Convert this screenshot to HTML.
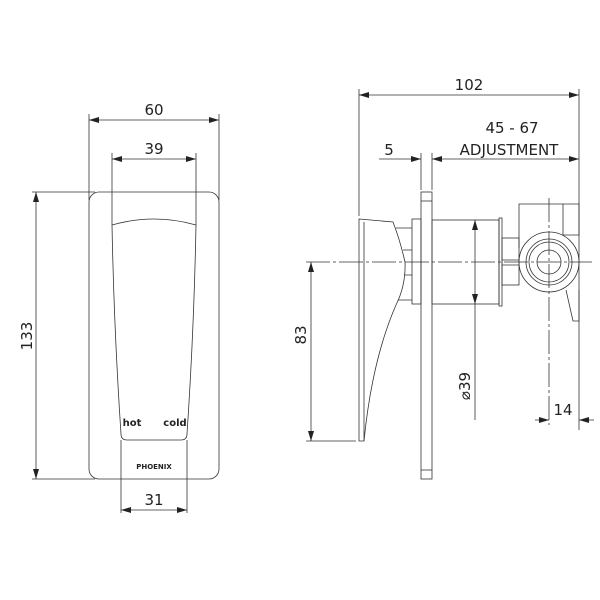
<!DOCTYPE html>
<html><head><style>body{margin:0;background:#fff}svg{display:block}text{font-family:"DejaVu Sans","Liberation Sans",sans-serif;fill:#222}</style></head>
<body>
<svg width="600" height="600" viewBox="0 0 600 600" xmlns="http://www.w3.org/2000/svg">
<defs>
<marker id="a" viewBox="0 0 10 6" refX="10" refY="3" markerWidth="10" markerHeight="6" orient="auto-start-reverse" markerUnits="userSpaceOnUse"><path d="M0,0 L10,3 L0,6 z" fill="#222"/></marker>
</defs>
<g stroke="#333" stroke-width="0.8" fill="none">
<rect x="89" y="192" width="130" height="287" rx="10"/>
<path d="M112,225 Q154,213 196,225 Q194,330 187,434 Q187,440 181,440 L127,440 Q121,440 121,434 Q114,330 112,225 Z"/>
<line x1="89" y1="114" x2="89" y2="200"/>
<line x1="219" y1="114" x2="219" y2="200"/>
<line x1="112" y1="153" x2="112" y2="225"/>
<line x1="196" y1="153" x2="196" y2="225"/>
<line x1="121" y1="440" x2="121" y2="513"/>
<line x1="187" y1="440" x2="187" y2="513"/>
<line x1="32" y1="192" x2="95" y2="192"/>
<line x1="32" y1="479" x2="95" y2="479"/>
<line x1="89" y1="120" x2="219" y2="120" marker-start="url(#a)" marker-end="url(#a)"/>
<line x1="112" y1="159" x2="196" y2="159" marker-start="url(#a)" marker-end="url(#a)"/>
<line x1="121" y1="510" x2="187" y2="510" marker-start="url(#a)" marker-end="url(#a)"/>
<line x1="36" y1="192" x2="36" y2="479" marker-start="url(#a)" marker-end="url(#a)"/>

<rect x="421" y="192" width="11" height="287"/>
<line x1="421" y1="201" x2="432" y2="201"/>
<line x1="421" y1="470" x2="432" y2="470"/>
<path d="M359,219 L393,222 Q400,240 405,262 Q406,285 396,305 Q372,360 364,441 L359,441 Z"/>
<line x1="364" y1="222" x2="364" y2="441"/>
<path d="M396,228 L412,228 M403,250 L412,250 M404,275 L412,275 M398,300 L412,300"/>
<rect x="412" y="219" width="9" height="85"/>
<rect x="432" y="220" width="67" height="84"/>
<rect x="499" y="218" width="3" height="88"/>
<rect x="502" y="238" width="17" height="47"/>
<line x1="502" y1="260" x2="519" y2="260"/>
<line x1="502" y1="265" x2="519" y2="265"/>
<path d="M519,248 L519,204 L563,204 L563,235 M563,204 L579,204 L579,235 L563,235"/>
<circle cx="549" cy="262" r="30"/>
<circle cx="549" cy="262" r="23"/>
<circle cx="549" cy="262" r="20"/>
<circle cx="549" cy="262" r="12"/>
<path d="M566,290 L573,321 L579,321 L579,290"/>
<line x1="306" y1="262" x2="592" y2="262" stroke-dasharray="24,3,3,3"/>
<line x1="549" y1="198" x2="549" y2="425" stroke-dasharray="24,3,3,3"/>
<line x1="359" y1="89" x2="359" y2="216"/>
<line x1="579" y1="89" x2="579" y2="430"/>
<line x1="421" y1="153" x2="421" y2="190"/>
<line x1="432" y1="153" x2="432" y2="190"/>
<line x1="306" y1="441" x2="356" y2="441"/>
<line x1="475" y1="304" x2="475" y2="420"/>
<line x1="359" y1="95" x2="579" y2="95" marker-start="url(#a)" marker-end="url(#a)"/>
<line x1="379" y1="159" x2="421" y2="159" marker-end="url(#a)"/>
<line x1="432" y1="159" x2="579" y2="159" marker-start="url(#a)" marker-end="url(#a)"/>
<line x1="475" y1="220" x2="475" y2="304" marker-start="url(#a)" marker-end="url(#a)"/>
<line x1="311" y1="262" x2="311" y2="441" marker-start="url(#a)" marker-end="url(#a)"/>
<line x1="535" y1="420" x2="549" y2="420" marker-end="url(#a)"/>
<line x1="594" y1="420" x2="579" y2="420" marker-end="url(#a)"/>
</g>
<g font-size="15">
<text x="154" y="115" text-anchor="middle">60</text>
<text x="154" y="154" text-anchor="middle">39</text>
<text x="154" y="505" text-anchor="middle">31</text>
<text transform="translate(32,336) rotate(-90)" text-anchor="middle">133</text>
<text x="469" y="90" text-anchor="middle">102</text>
<text x="389" y="155" text-anchor="middle">5</text>
<text x="512" y="133" text-anchor="middle">45 - 67</text>
<text x="509" y="155" text-anchor="middle">ADJUSTMENT</text>
<text transform="translate(306,335) rotate(-90)" text-anchor="middle">83</text>
<text transform="translate(470,386) rotate(-90)" text-anchor="middle">⌀39</text>
<text x="563" y="415" text-anchor="middle">14</text>
</g>
<g font-weight="bold" font-family="Liberation Sans">
<text x="132" y="426" font-size="10" text-anchor="middle">hot</text>
<text x="175" y="426" font-size="10" text-anchor="middle">cold</text>
<text x="154" y="469" font-size="7" text-anchor="middle">PHOENIX</text>
</g>
</svg>
</body></html>
